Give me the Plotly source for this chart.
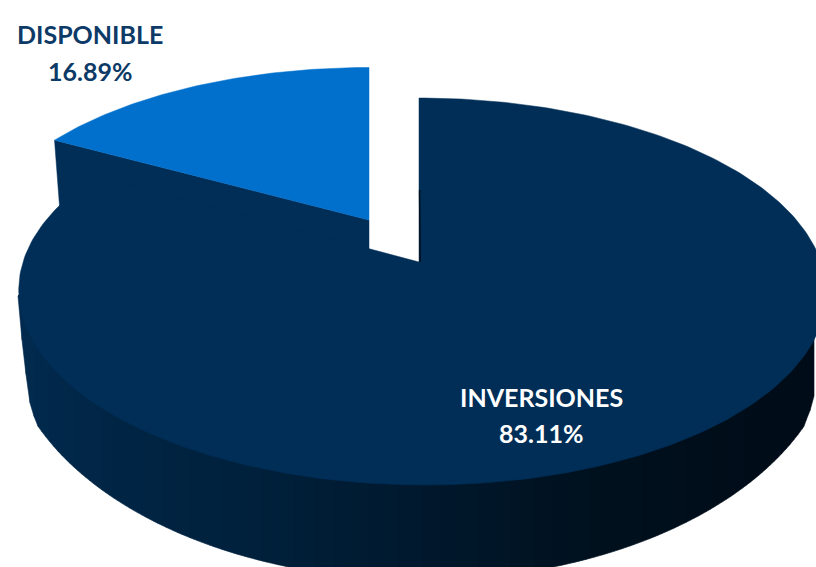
import numpy as np
import plotly.graph_objects as go

# Data
labels = ["DISPONIBLE", "INVERSIONES"]
values = [16.89, 83.11]
colors = ["#0070CC", "#002E57"]
label_colors = ["#0D3A66", "#FFFFFF"]
label_pos = [(90, 34, 71), (541, 397, 433)]

W, H = 816, 567
K = 0.1525              # perspective of the disc
A, B = 399.0, 189.0     # disc radii (px)
big_apex = (419.0, 262.0)
blue_apex = (369.0, 220.0)
blue_scale = (0.97, 0.93)


def disc(theta_deg, apex, sx=1.0, sy=1.0, skew=0.0):
    t = np.radians(theta_deg)
    u, v = np.sin(t), -np.cos(t)
    d = 1 - K * v
    return (apex[0] + sx * A * u / d + skew * (1 + v),
            apex[1] + sy * B * v / d)


share_blue = values[0] / sum(values) * 360.0

fig = go.Figure()


def poly(x, y, color, width=0.5):
    fig.add_trace(go.Scatter(x=x, y=y, mode="lines", fill="toself",
                             fillcolor=color, line=dict(color=color, width=width),
                             hoverinfo="skip", showlegend=False))


# Side wall: silhouette of the lower rim, shaded in vertical strips
def lower_rim(x):
    dx = np.abs(x - 421.0)
    ell = 330.0 + 250.0 * np.sqrt(np.clip(1 - (dx / 415.0) ** 2, 0, 1))
    out = ell.copy()
    left = x < 37
    out[left] = np.interp(x[left], [18, 22, 27, 30, 33, 37], [296, 340, 383, 403, 414, 423])
    right = x > 805
    out[right] = np.interp(x[right], [805, 811, 816, 830], [423, 408, 388, 300])
    return out


shade_x = [18, 100, 250, 420, 600, 816]
shade_r = [1, 1, 0, 0, 0, 0]
shade_g = [43, 38, 33, 25, 17, 12]
shade_b = [79, 70, 60, 46, 30, 24]
edges = np.arange(18, 818, 4.0)
for x0, x1 in zip(edges[:-1], edges[1:]):
    xs = np.linspace(x0, x1, 3)
    mid = (x0 + x1) / 2
    c = "rgb(%d,%d,%d)" % tuple(np.interp(mid, shade_x, s) for s in (shade_r, shade_g, shade_b))
    ys = lower_rim(xs)
    poly(list(xs) + [x1, x0], list(ys) + [295, 295], c, 0.6)

# Large slice geometry
th = np.linspace(0, 360 - share_blue, 300)
bx, by = disc(th, big_apex, skew=3.0)

# Small slice, cut face (overlaps under the large slice)
th2 = np.linspace(360 - share_blue, 360, 80)
sx, sy = disc(th2, blue_apex, *blue_scale)
cx, cy = sx[0], sy[0]
end_x, end_y = bx[-1], by[-1]
slope = (big_apex[1] - end_y) / (big_apex[0] - end_x)
edge_y = big_apex[1] - slope * (big_apex[0] - blue_apex[0])
poly([blue_apex[0], cx, cx + 5, end_x, blue_apex[0], blue_apex[0]],
     [blue_apex[1], cy, cy + 66, end_y + 8, edge_y + 8, blue_apex[1]], colors[1])

# Large slice, top face
poly([big_apex[0], *bx, big_apex[0]], [big_apex[1], *by, big_apex[1]], colors[1])

# Small slice, top face
poly([blue_apex[0], *sx, blue_apex[0]], [blue_apex[1], *sy, blue_apex[1]], colors[0])

# thin shaded inner edge of the large slice
fig.add_trace(go.Scatter(x=[big_apex[0] + 0.6, big_apex[0] + 1.2], y=[190, big_apex[1]],
                         mode="lines", line=dict(color="#00101E", width=1.5),
                         hoverinfo="skip", showlegend=False))

for lab, val, col, (px, py1, py2) in zip(labels, values, label_colors, label_pos):
    for txt, py in ((lab, py1), (f"{val:.2f}%", py2)):
        fig.add_annotation(x=px, y=py, xref="x", yref="y", showarrow=False,
                           text=f"<b>{txt}</b>", align="center",
                           font=dict(family="Lato", size=25, color=col))

fig.update_layout(width=W, height=H, autosize=False,
                  margin=dict(l=0, r=0, t=0, b=0),
                  paper_bgcolor="white", plot_bgcolor="white", showlegend=False,
                  xaxis=dict(range=[0, W], visible=False, fixedrange=True),
                  yaxis=dict(range=[H, 0], visible=False, fixedrange=True))
fig.write_html("out.html", config={"displayModeBar": False},
               post_script="document.body.style.margin='0';document.documentElement.style.overflow='hidden';")
